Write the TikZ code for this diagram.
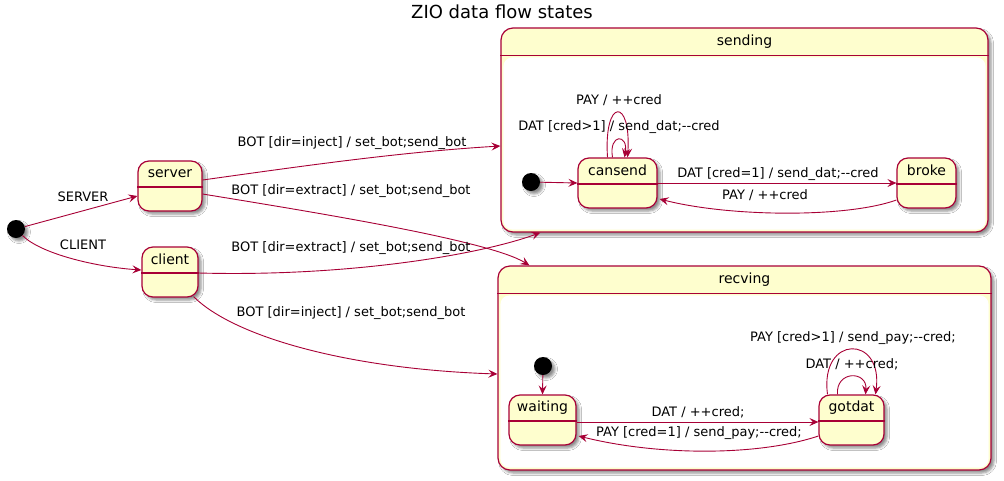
\documentclass[tikz,border=0pt]{standalone}
\usepackage{fontspec}
\setmainfont{DejaVu Sans}
\usetikzlibrary{arrows.meta,calc,shadows.blur}
\definecolor{pborder}{HTML}{A80036}
\definecolor{pfill}{HTML}{FEFECE}
\newcommand\zstate[5]{%
  \node[statebox,minimum width=#4,minimum height=50] (#1) at (#2,#3) {};
  \draw[divider] ($(#1.west)+(0,1)$) -- ($(#1.east)+(0,1)$);
  \node[sname] at ($(#1.north)+(0,13)$) {#5};}
\newcommand\zcluster[6]{%
  \node[cluster,minimum width=#4,minimum height=#5] (#1) at (#2,#3) {};
  \fill[innerbg] ($(#1.north west)+(3,30)$) rectangle ($(#1.south east)+(-3,-3)$);
  \draw[divider] ($(#1.north west)+(0,28)$) -- ($(#1.north east)+(0,28)$);
  \node[sname] at ($(#1.north)+(0,14)$) {#6};}
\begin{document}
\begin{tikzpicture}[x=1pt,y=-1pt,
 shd/.style={blur shadow={shadow xshift=3pt,shadow yshift=-3pt,shadow blur radius=2.5pt,shadow opacity=45}},
 statebox/.style={draw=pborder,fill=pfill,line width=1.2pt,rounded corners=11pt,shd,inner sep=0},
 cluster/.style={draw=pborder,fill=pfill,line width=1.2pt,rounded corners=12pt,shd,inner sep=0},
 innerbg/.style={fill=white,rounded corners=9pt},
 divider/.style={draw=pborder,line width=1.2pt},
 startdot/.style={circle,fill=black,minimum size=18pt,inner sep=0,shd},
 sname/.style={font=\fontsize{14}{16}\selectfont,inner sep=0},
 lbl/.style={font=\fontsize{13}{15}\selectfont,inner sep=0},
 ttl/.style={font=\fontsize{18}{20}\selectfont,inner sep=0},
 arr/.style={draw=pborder,line width=0.9pt,-{Stealth[length=9pt,width=8pt,inset=3.5pt]}},
]
\useasboundingbox (0,0) rectangle (1004,480);
\fill[white] (0,0) rectangle (1004,480);

\node[ttl] (title) at (502,12) {ZIO data flow states};

% clusters
\zcluster{sending}{744.5}{130}{487}{204}{sending}
\zcluster{recving}{744.5}{368}{493}{204}{recving}

% states
\node[startdot] (start) at (16,229) {};
\zstate{server}{170}{186}{64}{server}
\zstate{client}{170}{272}{56}{client}
\node[startdot] (istart1) at (531,182) {};
\zstate{cansend}{617.5}{183}{79}{cansend}
\zstate{broke}{926.5}{183}{59}{broke}
\node[startdot] (istart2) at (543,366) {};
\zstate{waiting}{542.5}{420}{67}{waiting}
\zstate{gotdat}{851.5}{420}{65}{gotdat}

% top-level edges
\draw[arr] (start) -- ($(server.west)+(0,10)$);
\node[lbl] at (83,197) {SERVER};
\draw[arr] (start) .. controls +(25,25) and +(-45,-3) .. ($(client.west)+(0,-2)$);
\node[lbl] at (83,245) {CLIENT};

\draw[arr] ($(server.east)+(0,-6)$) .. controls +(100,-14) and +(-100,6) .. ($(sending.west)+(0,16)$);
\node[lbl] at (352,143) {BOT [dir=inject] / set\_bot;send\_bot};
\draw[arr] ($(server.east)+(0,8)$) .. controls +(110,18) and +(-40,-25) .. ($(recving.north west)+(32,0)$);
\node[lbl] at (351,191) {BOT [dir=extract] / set\_bot;send\_bot};
\draw[arr] ($(client.east)+(0,1)$) .. controls +(150,4) and +(-60,22) .. ($(sending.south west)+(40,0)$);
\node[lbl] at (351,248) {BOT [dir=extract] / set\_bot;send\_bot};
\draw[arr] ($(client.south east)+(-5,-1)$) .. controls +(40,40) and +(-150,-5) .. ($(recving.west)+(0,6)$);
\node[lbl] at (351,313) {BOT [dir=inject] / set\_bot;send\_bot};

% sending internals
\draw[arr] (istart1) -- (cansend.west);
\draw[arr] ($(cansend.north)+(-10,0)$) .. controls +(-4,-60) and +(4,-60) .. ($(cansend.north)+(10,0)$);
\node[lbl] at (619,100) {PAY / ++cred};
\draw[arr] ($(cansend.north)+(-5,0)$) .. controls +(-4,-24) and +(4,-24) .. ($(cansend.north)+(7,0)$);
\node[lbl] at (619,127) {DAT [cred>1] / send\_dat;-{}-cred};
\draw[arr] (cansend.east) -- (broke.west);
\node[lbl] at (778,174) {DAT [cred=1] / send\_dat;-{}-cred};
\draw[arr] ($(broke.west)+(0,17)$) .. controls +(-50,18) and +(70,18) .. ($(cansend.east)+(2,16)$);
\node[lbl] at (765,195) {PAY / ++cred};

% recving internals
\draw[arr] (istart2) -- (waiting.north);
\draw[arr] ($(waiting.east)+(0,2)$) -- ($(gotdat.west)+(0,2)$);
\node[lbl] at (698,412) {DAT / ++cred;};
\draw[arr] ($(gotdat.west)+(0,16)$) .. controls +(-60,20) and +(80,20) .. ($(waiting.east)+(2,16)$);
\node[lbl] at (699,433) {PAY [cred=1] / send\_pay;-{}-cred;};
\draw[arr] ($(gotdat.north)+(-24,0)$) .. controls +(-8,-60) and +(8,-60) .. ($(gotdat.north)+(24,0)$);
\node[lbl] at (853,338) {PAY [cred>1] / send\_pay;-{}-cred;};
\draw[arr] ($(gotdat.north)+(-14,0)$) .. controls +(-2,-24) and +(2,-24) .. ($(gotdat.north)+(14,0)$);
\node[lbl] at (852,364) {DAT / ++cred;};
\end{tikzpicture}
\end{document}
